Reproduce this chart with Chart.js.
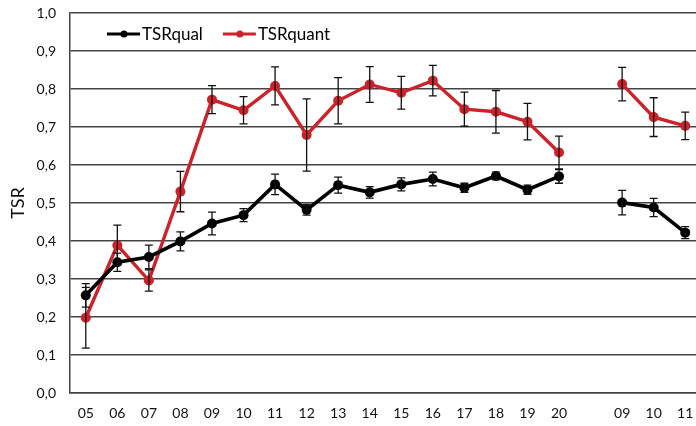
<!DOCTYPE html>
<html>
<head>
<meta charset="utf-8">
<script src="https://cdn.jsdelivr.net/npm/chart.js@4.4.1/dist/chart.umd.min.js"></script>
<style>
  html, body { margin: 0; padding: 0; background: #fff; overflow: hidden; }
  #wrap { width: 706px; height: 426px; }
</style>
</head>
<body>
<div id="wrap"><canvas id="c"></canvas></div>
<script>
// Age groups; the blank slot separates the two cohorts
const categories = ['05','06','07','08','09','10','11','12','13','14','15','16','17','18','19','20','','09','10','11'];

const tsrQual = [0.257,0.344,0.358,0.399,0.446,0.468,0.549,0.482,0.547,0.528,0.549,0.563,0.540,0.571,0.535,0.570,null,0.501,0.488,0.422];
const tsrQualErr = [0.031,0.024,0.031,0.025,0.030,0.017,0.027,0.014,0.021,0.015,0.017,0.018,0.012,0.010,0.012,0.018,null,0.032,0.024,0.016];

const tsrQuant = [0.198,0.389,0.296,0.530,0.772,0.744,0.808,0.679,0.769,0.812,0.790,0.822,0.747,0.740,0.714,0.633,null,0.813,0.726,0.703];
const tsrQuantErr = [0.080,0.053,0.028,0.053,0.037,0.036,0.050,0.095,0.061,0.047,0.043,0.040,0.045,0.056,0.048,0.043,null,0.044,0.051,0.036];

const RED = '#cc2229';
const BLACK = '#000000';
const FONT = 'Lato, "Open Sans", sans-serif';

// Vertical error bars with caps, drawn over the lines
const errorBars = {
  id: 'errorBars',
  afterDatasetsDraw(chart) {
    const { ctx, scales: { x, y } } = chart;
    ctx.save();
    ctx.strokeStyle = '#111';
    ctx.lineWidth = 1.3;
    chart.data.datasets.forEach(ds => {
      ds.values.forEach((v, i) => {
        if (v === null) return;
        const e = ds.errors[i];
        const px = x.getPixelForValue(i);
        const top = y.getPixelForValue(v + e);
        const bot = y.getPixelForValue(v - e);
        ctx.beginPath();
        ctx.moveTo(px, top); ctx.lineTo(px, bot);
        ctx.moveTo(px - 4, top); ctx.lineTo(px + 4, top);
        ctx.moveTo(px - 4, bot); ctx.lineTo(px + 4, bot);
        ctx.stroke();
      });
    });
    ctx.restore();
  }
};

// Legend with line-and-dot samples, placed inside the plot near the top
const insideLegend = {
  id: 'insideLegend',
  afterDraw(chart) {
    const { ctx, chartArea } = chart;
    const yMid = chartArea.top + 21;
    let xPos = chartArea.left + 37;
    ctx.save();
    ctx.font = '17px ' + FONT;
    ctx.textBaseline = 'middle';
    chart.data.datasets.forEach(ds => {
      ctx.strokeStyle = ds.borderColor;
      ctx.lineWidth = 3;
      ctx.beginPath();
      ctx.moveTo(xPos, yMid); ctx.lineTo(xPos + 33, yMid);
      ctx.stroke();
      ctx.fillStyle = ds.borderColor;
      ctx.beginPath();
      ctx.arc(xPos + 17, yMid, 3.5, 0, Math.PI * 2);
      ctx.fill();
      ctx.fillStyle = '#000';
      ctx.fillText(ds.label, xPos + 35, yMid + 1);
      xPos += 35 + ctx.measureText(ds.label).width + 20;
    });
    ctx.restore();
  }
};

new Chart(document.getElementById('c'), {
  type: 'line',
  data: {
    labels: categories,
    datasets: [
      {
        label: 'TSRqual', data: tsrQual, values: tsrQual, errors: tsrQualErr,
        borderColor: BLACK, backgroundColor: BLACK, borderWidth: 3.6,
        pointRadius: 5, pointHoverRadius: 5, pointBorderWidth: 0,
        tension: 0, spanGaps: false
      },
      {
        label: 'TSRquant', data: tsrQuant, values: tsrQuant, errors: tsrQuantErr,
        borderColor: RED, backgroundColor: RED, borderWidth: 3.4,
        pointRadius: 5, pointHoverRadius: 5, pointBorderWidth: 0,
        tension: 0, spanGaps: false
      }
    ]
  },
  options: {
    responsive: true,
    maintainAspectRatio: false,
    animation: false,
    layout: { padding: { top: 13, right: 0, bottom: 0, left: 7 } },
    plugins: { legend: { display: false }, tooltip: { enabled: false } },
    scales: {
      x: {
        offset: true,
        grid: { display: false, drawTicks: false },
        border: { display: true, color: '#444', width: 1.5 },
        ticks: { color: '#111', font: { family: FONT, size: 14 }, padding: 12, autoSkip: false, maxRotation: 0 },
        afterFit(scale) { scale.height = 33; scale.paddingLeft = 0; scale.paddingRight = 0; }
      },
      y: {
        min: 0, max: 1,
        ticks: {
          stepSize: 0.1, color: '#111', padding: 14,
          font: { family: FONT, size: 14 },
          callback: v => v.toFixed(1).replace('.', ',')
        },
        grid: { color: '#444', lineWidth: 1.5, drawTicks: false },
        border: { display: true, color: '#444', width: 1.5 },
        title: { display: true, text: 'TSR', color: '#111', font: { family: FONT, size: 18 }, padding: { top: 0, bottom: 4 } },
        afterFit(scale) { scale.width = 63; scale.paddingTop = 0; scale.paddingBottom = 0; }
      }
    }
  },
  plugins: [errorBars, insideLegend]
});
</script>
</body>
</html>
